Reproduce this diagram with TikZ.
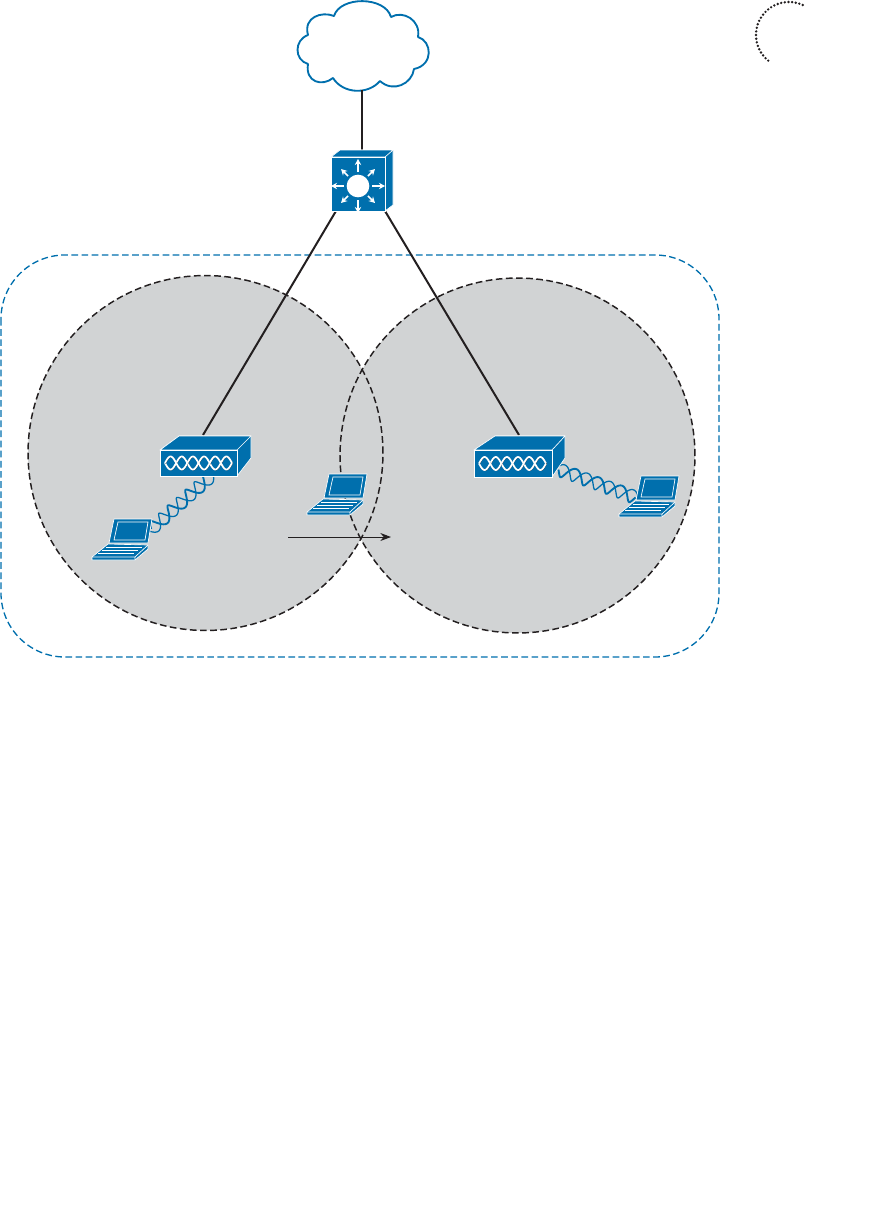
\documentclass[tikz,border=0pt]{standalone}
\usetikzlibrary{arrows.meta}
\definecolor{ciscoblue}{HTML}{006FAD}
\definecolor{cellgray}{HTML}{D1D3D4}
\definecolor{inkdark}{HTML}{231F20}
\newcommand{\helixwave}[7]{% x1,y1,x2,y2,periods,phase,amplitude
  plot[domain=0:1,samples=130,smooth,variable=\t]
   ({#1+(\t+0.018*cos(360*#5*\t+#6))*(#3-#1)+#7*sin(360*#5*\t+#6)*(-(#4-#2))/veclen(#3-#1,#4-#2)},
    {#2+(\t+0.018*cos(360*#5*\t+#6))*(#4-#2)+#7*sin(360*#5*\t+#6)*(#3-#1)/veclen(#3-#1,#4-#2)})}
\newcommand{\apwave}[6]{% x1,y1,x2,y2,periods,phase
  plot[domain=0:1,samples=90,smooth,variable=\t]
   ({#1+\t*(#3-#1)},{#2+6.5*sin(360*#5*\t+#6)})}
\tikzset{
  x=0.75pt,y=-0.75pt,
  cell/.style={draw=inkdark,line width=1.1pt,dash pattern=on 5pt off 2.6pt},
  zone/.style={draw=ciscoblue,line width=1pt,dash pattern=on 5pt off 2.6pt,rounded corners=48pt},
  link/.style={draw=inkdark,line width=1.5pt},
  face/.style={fill=ciscoblue,draw=white,line width=0.5pt,line join=round},
  devfront/.style={rectangle,inner sep=0pt,outer sep=0pt,fill=ciscoblue,draw=white,line width=0.5pt},
  radio/.style={draw=ciscoblue,line width=#1},
  apwave/.style={draw=white,line width=1.3pt},
  apshade/.style={draw=inkdark,line width=0.6pt,xshift=0.35pt,yshift=-0.35pt},
  burst/.style={draw=white,line width=1.2pt,-{Stealth[length=4.5pt,width=4.8pt]}},
  laptop/.pic={
    \path[face] (22,-41) -- (60,-41) -- (56,-17) -- (17,-17) -- cycle;
    \path[draw=white,line width=0.5pt] (26,-38) -- (56,-38) -- (53,-20) -- (22,-20) -- cycle;
    \path[face] (16,-16) -- (56,-15) -- (56,-11) -- (43,0) -- (0,0) -- (0,-3) -- cycle;
    \draw[white,line width=0.35pt] (14,-13) -- (50,-13) (10,-10) -- (46,-10) (6,-7) -- (42,-7);
    \draw[white,line width=0.5pt] (0,-3) -- (43,-3) -- (56,-15) (43,-3) -- (43,0);
  }
}
\begin{document}
\begin{tikzpicture}
\useasboundingbox (0,0) rectangle (881,1207);
% coverage zone and cells
\draw[zone] (1,255) rectangle (719,657);
\path[fill=cellgray] (205.5,453) circle[radius=133.1pt];
\path[fill=cellgray] (517.5,455.5) circle[radius=133.1pt];
\draw[cell] (205.5,453) circle[radius=133.1pt];
\draw[cell] (517.5,455.5) circle[radius=133.1pt];
% anchors
\coordinate (cloudfoot) at (362,90);
\coordinate (swtop) at (362,152);
\coordinate (swleft) at (336,211);
\coordinate (swright) at (385,211);
\coordinate (apOnetop) at (203,435);
\coordinate (apTwotop) at (519,435);
\coordinate (moveStart) at (288,537);
\coordinate (moveEnd) at (391,537);
% cloud
\draw[draw=ciscoblue,line width=1.4pt,fill=white,line join=round]
  (334,16) .. controls (340,-4) and (385,-4) .. (391,17)
  .. controls (403,10) and (421,20) .. (418,37)
  .. controls (432,41) and (434,65) .. (414,69)
  .. controls (412,84) and (393,93) .. (380,81)
  .. controls (368,95) and (343,94) .. (333,78)
  .. controls (322,87) and (305,82) .. (308,64)
  .. controls (294,60) and (294,40) .. (308,35)
  .. controls (303,17) and (322,11) .. (334,16) -- cycle;
% links
\draw[link] (cloudfoot) -- (swtop);
\draw[link] (swleft) -- (apOnetop);
\draw[link] (swright) -- (apTwotop);
% switch
\path[face] (331,157) -- (340,150) -- (393,150) -- (393,205) -- (385,211) -- (385,157) -- cycle;
\path[face] (331,157) -- (340,150) -- (393,150) -- (385,157) -- cycle;
\node[devfront,minimum width=40.5pt,minimum height=40.5pt] (sw) at (358,184) {};
\fill[white] (358,186) circle[radius=8.5pt];
\foreach \a/\r in {0/27,45/24,90/27,135/24,180/27,225/24,270/27,315/24}
  \draw[burst] ({358+14*cos(\a)},{186+14*sin(\a)}) -- ({358+\r*cos(\a)},{186+\r*sin(\a)});
% radio links
\draw[radio=0.95pt] \helixwave{212}{475}{150}{530}{3.5}{180}{6.5};
\draw[radio=1.4pt] \helixwave{212}{475}{150}{530}{3.5}{0}{6.5};
\draw[radio=0.95pt] \helixwave{557}{469}{637}{498}{3.5}{180}{6.5};
\draw[radio=1.4pt] \helixwave{557}{469}{637}{498}{3.5}{0}{6.5};
% access point 1
\path[face] (160,450) -- (179,436) -- (251,436) -- (251,458) -- (237,476) -- (237,450) -- cycle;
\path[face] (160,450) -- (179,436) -- (251,436) -- (237,450) -- cycle;
\node[devfront,minimum width=57.75pt,minimum height=19.5pt] (apOne) at (198.5,463) {};
\draw[apshade] \apwave{165}{463}{232}{463}{3}{0};
\draw[apwave] \apwave{165}{463}{232}{463}{3}{0};
\draw[apshade] \apwave{165}{463}{232}{463}{3}{180};
\draw[apwave] \apwave{165}{463}{232}{463}{3}{180};
% access point 2
\path[face] (474,450) -- (495,436) -- (565,436) -- (565,458) -- (552,477) -- (552,450) -- cycle;
\path[face] (474,450) -- (495,436) -- (565,436) -- (552,450) -- cycle;
\node[devfront,minimum width=58.5pt,minimum height=20.25pt] (apTwo) at (513,463.5) {};
\draw[apshade] \apwave{479}{463.5}{546}{463.5}{3}{0};
\draw[apwave] \apwave{479}{463.5}{546}{463.5}{3}{0};
\draw[apshade] \apwave{479}{463.5}{546}{463.5}{3}{180};
\draw[apwave] \apwave{479}{463.5}{546}{463.5}{3}{180};
% laptops
\pic at (92,560) {laptop};
\pic at (307,515) {laptop};
\pic at (619,517) {laptop};
% roaming arrow
\draw[draw=inkdark,line width=0.7pt,-{Stealth[length=8pt,width=6pt]}] (moveStart) -- (moveEnd);
% dotted arc
\draw[draw=inkdark,line width=2pt,line cap=round,dash pattern=on 0pt off 2.75pt]
  plot[domain=129:298,samples=60,smooth,variable=\t] ({789+33*cos(\t)},{35+33*sin(\t)});
\end{tikzpicture}
\end{document}
